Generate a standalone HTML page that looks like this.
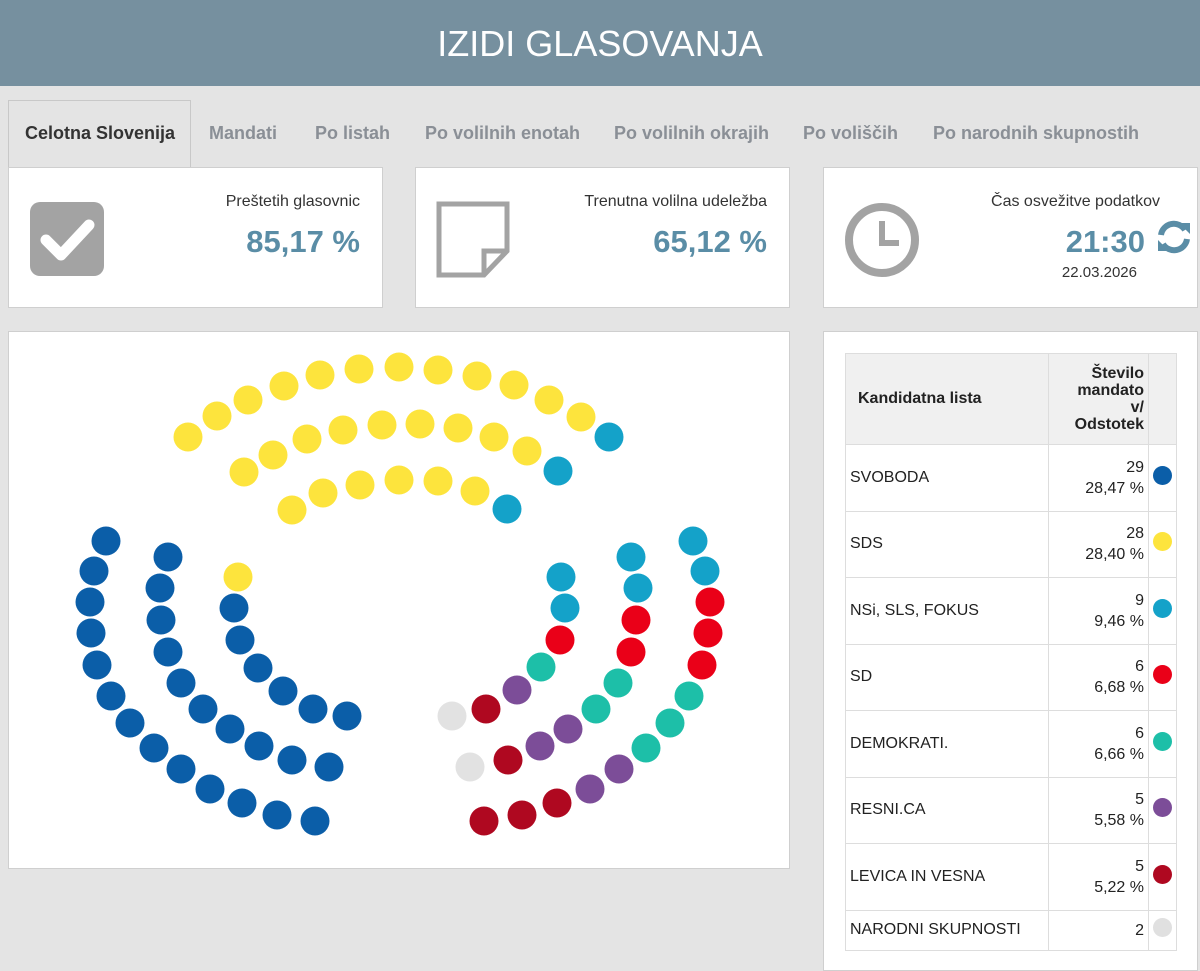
<!DOCTYPE html>
<html><head><meta charset="utf-8"><style>
*{margin:0;padding:0;box-sizing:border-box}
body{width:1200px;height:952px;background:#e4e4e4;font-family:"Liberation Sans",sans-serif;position:relative;overflow:hidden;color:#222}
.hdr{position:absolute;left:0;top:0;width:1200px;height:86px;background:#76909f;color:#fff;font-size:36px;text-align:center;line-height:88px}
.tab{position:absolute;top:123px;font-size:18px;font-weight:bold;color:#8a8f96}
.card{position:absolute;background:#fff;border:1px solid #cfcfcf}
.lbl{position:absolute;font-size:16px;color:#333}
.big{position:absolute;font-size:31px;font-weight:bold;color:#5a8da6}
table{position:absolute;left:845px;top:353px;border-collapse:collapse;font-size:16px}
td{border:1px solid #ddd;height:66.5px;padding:0 4px;vertical-align:middle}
td.n{text-align:right;width:100px;line-height:21px}
td.c{width:27px;text-align:center}
.d{display:inline-block;width:19px;height:19px;border-radius:50%}
</style></head><body>
<div class="hdr">IZIDI GLASOVANJA</div>
<div style="position:absolute;left:8px;top:100px;width:183px;height:68px;background:#e4e4e4;border:1px solid #c8c8c8;border-bottom:none"></div>
<div class="tab" style="left:25px;color:#333">Celotna Slovenija</div>
<div class="tab" style="left:209px">Mandati</div>
<div class="tab" style="left:315px">Po listah</div>
<div class="tab" style="left:425px">Po volilnih enotah</div>
<div class="tab" style="left:614px">Po volilnih okrajih</div>
<div class="tab" style="left:803px">Po voliščih</div>
<div class="tab" style="left:933px">Po narodnih skupnostih</div>

<div class="card" style="left:8px;top:167px;width:375px;height:141px">
<div style="position:absolute;left:21px;top:34px;width:74px;height:74px;background:#a3a3a3;border-radius:10px"></div>
<svg style="position:absolute;left:21px;top:34px" width="74" height="74"><path d="M16 38 L31 53 L59 23" stroke="#fff" stroke-width="11" fill="none" stroke-linecap="round" stroke-linejoin="round"/></svg>
<div class="lbl" style="right:22px;top:25px">Preštetih glasovnic</div>
<div class="big" style="right:22px;top:56px">85,17 %</div></div>

<div class="card" style="left:415px;top:167px;width:375px;height:141px">
<svg style="position:absolute;left:20px;top:33px" width="76" height="78"><path d="M3 3 H71 V50 L48 74 H3 Z" fill="none" stroke="#a3a3a3" stroke-width="5"/><path d="M71 50 H48 V74" fill="none" stroke="#a3a3a3" stroke-width="5"/></svg>
<div class="lbl" style="right:22px;top:25px">Trenutna volilna udeležba</div>
<div class="big" style="right:22px;top:56px">65,12 %</div></div>

<div class="card" style="left:823px;top:167px;width:375px;height:141px">
<svg style="position:absolute;left:19px;top:33px" width="78" height="78"><circle cx="39" cy="39" r="33" fill="none" stroke="#a3a3a3" stroke-width="8"/><path d="M39 20 V42 H56" fill="none" stroke="#a3a3a3" stroke-width="6"/></svg>
<div class="lbl" style="right:37px;top:25px">Čas osvežitve podatkov</div>
<div class="big" style="right:52px;top:56px">21:30</div>
<svg style="position:absolute;left:331px;top:51px" width="38" height="36"><path d="M6 16 A13 13 0 0 1 30 11" fill="none" stroke="#5a8da6" stroke-width="6"/><path d="M24 4 L35 4 L35 15 Z" fill="#5a8da6"/><path d="M32 20 A13 13 0 0 1 8 25" fill="none" stroke="#5a8da6" stroke-width="6"/><path d="M14 32 L3 32 L3 21 Z" fill="#5a8da6"/></svg>
<div class="lbl" style="right:60px;top:96px;font-size:15px">22.03.2026</div></div>

<div class="card" style="left:8px;top:331px;width:782px;height:538px"></div>
<svg style="position:absolute;left:0;top:0" width="800" height="900" id="s"></svg>

<div class="card" style="left:823px;top:331px;width:375px;height:640px"></div>
<table>
<tr style="background:#f0f0f0"><td style="width:203px;height:91px;padding-left:12px;font-weight:bold">Kandidatna lista</td><td class="n" style="font-weight:bold;line-height:17px">Število<br>mandato<br>v/<br>Odstotek</td><td class="c"></td></tr>
<tr><td>SVOBODA</td><td class="n">29<br>28,47 %</td><td class="c"><span class="d" style="background:#0b5ea8"></span></td></tr>
<tr><td>SDS</td><td class="n">28<br>28,40 %</td><td class="c"><span class="d" style="background:#fde43d"></span></td></tr>
<tr><td>NSi, SLS, FOKUS</td><td class="n">9<br>9,46 %</td><td class="c"><span class="d" style="background:#14a2c9"></span></td></tr>
<tr><td>SD</td><td class="n">6<br>6,68 %</td><td class="c"><span class="d" style="background:#ea0018"></span></td></tr>
<tr><td>DEMOKRATI.</td><td class="n">6<br>6,66 %</td><td class="c"><span class="d" style="background:#1dbfa8"></span></td></tr>
<tr><td>RESNI.CA</td><td class="n">5<br>5,58 %</td><td class="c"><span class="d" style="background:#7c4d98"></span></td></tr>
<tr><td>LEVICA IN VESNA</td><td class="n">5<br>5,22 %</td><td class="c"><span class="d" style="background:#af0820"></span></td></tr>
<tr><td style="height:40px">NARODNI SKUPNOSTI</td><td class="n" style="height:40px">2</td><td class="c" style="height:40px"><span class="d" style="background:#e0e0e0"></span></td></tr>
</table>
<script>
var C={b:"#0b5ea8",y:"#fde43d",l:"#14a2c9",r:"#ea0018",t:"#1dbfa8",p:"#7c4d98",k:"#af0820",g:"#e2e2e2"};
var D=[
["y",188,437],["y",217,416],["y",248,400],["y",284,386],["y",320,375],["y",359,369],["y",399,367],["y",438,370],["y",477,376],["y",514,385],["y",549,400],["y",581,417],["l",609,437],
["y",244,472],["y",273,455],["y",307,439],["y",343,430],["y",382,425],["y",420,424],["y",458,428],["y",494,437],["y",527,451],["l",558,471],
["y",292,510],["y",323,493],["y",360,485],["y",399,480],["y",438,481],["y",475,491],["l",507,509],
["b",106,541],["b",94,571],["b",90,602],["b",91,633],["b",97,665],["b",111,696],["b",130,723],["b",154,748],["b",181,769],["b",210,789],["b",242,803],["b",277,815],["b",315,821],
["b",168,557],["b",160,588],["b",161,620],["b",168,652],["b",181,683],["b",203,709],["b",230,729],["b",259,746],["b",292,760],["b",329,767],
["y",238,577],["b",234,608],["b",240,640],["b",258,668],["b",283,691],["b",313,709],["b",347,716],
["l",561,577],["l",565,608],["r",560,640],["t",541,667],["p",517,690],["k",486,709],["g",452,716],
["l",631,557],["l",638,588],["r",636,620],["r",631,652],["t",618,683],["t",596,709],["p",568,729],["p",540,746],["k",508,760],["g",470,767],
["l",693,541],["l",705,571],["r",710,602],["r",708,633],["r",702,665],["t",689,696],["t",670,723],["t",646,748],["p",619,769],["p",590,789],["k",557,803],["k",522,815],["k",484,821]];
var s="";D.forEach(function(d){s+='<circle cx="'+d[1]+'" cy="'+d[2]+'" r="14.5" fill="'+C[d[0]]+'"/>'});
document.getElementById("s").innerHTML=s;
</script>
</body></html>
